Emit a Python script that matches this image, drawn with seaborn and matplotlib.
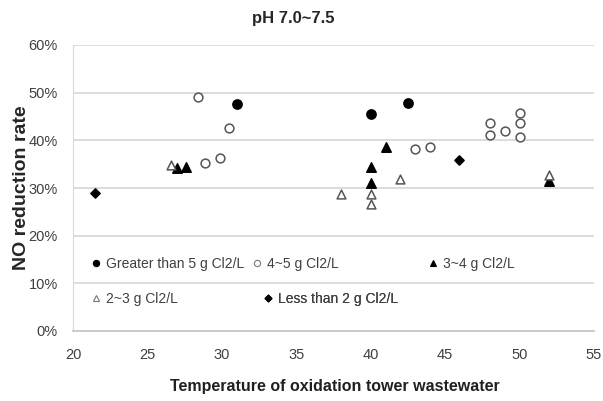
import pandas as pd
import numpy as np
import matplotlib
matplotlib.use('Agg')
import matplotlib.pyplot as plt
import seaborn as sns
from matplotlib.lines import Line2D
from matplotlib.ticker import PercentFormatter

# ---------------------------------------------------------------------
# data (temperature, NO reduction rate in %)
# ---------------------------------------------------------------------
gt5_temp = [31.0, 40.0, 42.5]
gt5_rate = [47.7, 45.6, 47.9]

c45_temp = [28.4, 30.5, 28.9, 29.9, 43.0, 44.0, 48.0, 48.0, 49.0, 50.0, 50.0, 50.0]
c45_rate = [49.1, 42.6, 35.3, 36.2, 38.2, 38.5, 43.7, 41.1, 41.9, 45.8, 43.7, 40.7]

c34_temp = [27.0, 27.6, 40.0, 40.0, 41.0, 52.0]
c34_rate = [34.1, 34.4, 34.4, 31.0, 38.5, 31.5]

c23_temp = [26.6, 38.0, 40.0, 40.0, 42.0, 52.0]
c23_rate = [34.8, 28.8, 28.8, 26.6, 31.9, 32.7]

lt2_temp = [21.5, 45.9]
lt2_rate = [28.9, 35.8]

labels = ['Greater than 5 g Cl2/L', '4~5 g Cl2/L', '3~4 g Cl2/L',
          '2~3 g Cl2/L', 'Less than 2 g Cl2/L']

frames = []
for lab, t, r in zip(labels,
                     [gt5_temp, c45_temp, c34_temp, c23_temp, lt2_temp],
                     [gt5_rate, c45_rate, c34_rate, c23_rate, lt2_rate]):
    frames.append(pd.DataFrame({'temp': t, 'rate': r, 'group': lab}))
df = pd.concat(frames, ignore_index=True)

# marker style per group: (marker, face, size)
styles = {
    labels[0]: ('o', 'black', 44),
    labels[1]: ('o', 'white', 40),
    labels[2]: ('^', 'black', 46),
    labels[3]: ('^', 'white', 40),
    labels[4]: ('D', 'black', 22),
}

sns.set_style('white')
plt.rcParams['font.family'] = ['Liberation Sans', 'DejaVu Sans']

W, H = 603, 401
fig = plt.figure(figsize=(W / 100, H / 100), dpi=100)
ax = fig.add_axes([73 / W, 1 - 331 / H, 521 / W, 286 / H])

# draw order so the filled triangle at 52 sits under the open one
for lab in [labels[0], labels[1], labels[2], labels[4], labels[3]]:
    m, fc, s = styles[lab]
    sub = df[df['group'] == lab]
    sns.scatterplot(data=sub, x='temp', y='rate', ax=ax, marker=m, s=s,
                    color=fc, edgecolor='black' if fc == 'black' else '#555555',
                    linewidth=1.1, legend=False, zorder=3)

ax.set_xlim(20, 55)
ax.set_ylim(0, 60)
ax.set_xticks(np.arange(20, 56, 5))
ax.set_yticks(np.arange(0, 61, 10))
ax.yaxis.set_major_formatter(PercentFormatter(decimals=0))
ax.grid(axis='y', color='#d9d9d9', linewidth=1.3)
ax.set_axisbelow(True)

for sp in ['top', 'right']:
    ax.spines[sp].set_visible(False)
ax.spines['left'].set_color('#d9d9d9')
ax.spines['bottom'].set_color('#c8c8c8')
ax.spines['bottom'].set_linewidth(1.3)
ax.tick_params(axis='x', direction='out', length=5, color='#c8c8c8',
               labelsize=10.5, labelcolor='#404040', pad=7)
ax.tick_params(axis='y', direction='out', length=4, color='#d9d9d9',
               labelsize=10.5, labelcolor='#404040', pad=7)

ax.set_xlabel('')
ax.set_ylabel('')
fig.text(335 / W, 1 - 387 / H, 'Temperature of oxidation tower wastewater',
         fontsize=11.5, fontweight='bold', color='#202020',
         ha='center', va='center')
fig.text(22 / W, 1 - 188 / H, 'NO reduction rate', fontsize=14,
         fontweight='bold', rotation=90, ha='center', va='center')
fig.text(293 / W, 1 - 19 / H, 'pH 7.0~7.5', fontsize=12,
         fontweight='bold', ha='center', va='center')

# legend, one entry per box so it can sit where the original has it
def handle(lab):
    m, fc, s = styles[lab]
    return Line2D([], [], linestyle='none', marker=m,
                  markersize=4.5 if m != 'D' else 3.5,
                  markerfacecolor=fc,
                  markeredgecolor='black' if fc == 'black' else '#777777',
                  markeredgewidth=0.8)

leg_pos = [(96, 264), (257, 264), (433, 264), (96, 299), (268, 299)]
for lab, (px, py) in zip(labels, leg_pos):
    leg = ax.legend([handle(lab)], [lab], frameon=False, loc='center left',
                    bbox_to_anchor=(px / W - 5 / W, 1 - py / H),
                    bbox_transform=fig.transFigure, borderpad=0,
                    borderaxespad=0, fontsize=10, handlelength=0.7,
                    handletextpad=0.35)
    leg.get_texts()[0].set_color('#404040')
    ax.add_artist(leg)

fig.savefig('out.png', dpi=100)
